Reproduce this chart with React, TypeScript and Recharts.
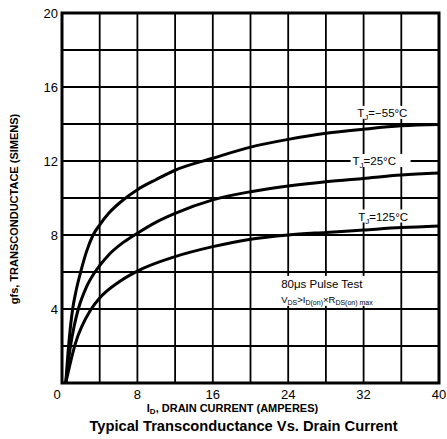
import React from 'react';
import { LineChart, Line, XAxis, YAxis, CartesianGrid, ReferenceArea, ReferenceDot } from 'recharts';

// Drain current (A) vs transconductance (S) for three junction temperatures
const currentM55 = [0.4, 0.7, 1.13, 1.5, 1.98, 2.6, 3.3, 4, 5, 6.5, 8, 10, 12, 16, 20, 24, 28, 32, 36, 40];
const gfsM55 = [0, 2, 4, 5.0, 6, 7.1, 8, 8.55, 9.2, 9.9, 10.45, 11.0, 11.5, 12.15, 12.75, 13.17, 13.5, 13.72, 13.9, 13.97];

const current25 = [0.4, 0.9, 1.3, 1.73, 2.6, 3.5, 4, 5, 6.5, 8, 10, 12, 16, 20, 24, 28, 32, 36, 40];
const gfs25 = [0, 2, 3.1, 4, 5.2, 6, 6.35, 6.95, 7.6, 8.1, 8.7, 9.17, 9.9, 10.34, 10.65, 10.88, 11.06, 11.24, 11.35];

const current125 = [0.4, 1.4, 3.1, 4, 6, 8, 12, 16, 20, 24, 28, 32, 36, 40];
const gfs125 = [0, 2.1, 4, 4.6, 5.45, 6.05, 6.83, 7.37, 7.77, 8.0, 8.14, 8.27, 8.4, 8.49];

const xTicks = [0, 4, 8, 12, 16, 20, 24, 28, 32, 36, 40];
const yTicks = [0, 2, 4, 6, 8, 10, 12, 14, 16, 18, 20];

const seriesLabels = ['\u221255\u00b0C', '25\u00b0C', '125\u00b0C'];
const labelPos = [
  { x: 34.3, y: 14.6 },
  { x: 33.8, y: 12.0 },
  { x: 34.4, y: 9.0 },
];
const noteLine1 = '80\u03bcs Pulse Test';
const notePos = { x: 27.5, y: 4.6 };

const toData = (xs: number[], ys: number[]) => xs.map((x, i) => ({ x, y: ys[i] }));
const dataM55 = toData(currentM55, gfsM55);
const data25 = toData(current25, gfs25);
const data125 = toData(current125, gfs125);

const FONT = '"Liberation Sans", Arial, sans-serif';

const XTick = (props: any) => {
  const { x, y, payload } = props;
  const v = payload.value;
  if (v % 8 !== 0) return null;
  const dx = v === 0 ? -5 : 0;
  return (
    <text x={x + dx} y={y + 8} textAnchor="middle" fontSize={13} fontFamily={FONT} fill="#000">
      {v}
    </text>
  );
};

const YTick = (props: any) => {
  const { x, y, payload } = props;
  const v = payload.value;
  if (v % 4 !== 0 || v === 0) return null;
  return (
    <text x={x + 4} y={y + 5} textAnchor="end" fontSize={13} fontFamily={FONT} fill="#000">
      {v}
    </text>
  );
};

const makeTJ = (temp: string) => (props: any) => {
  const { cx, cy } = props;
  const w = 60;
  return (
    <g>
      <rect x={cx - w / 2} y={cy - 7} width={w} height={13} fill="#fff" />
      <text x={cx - w / 2 + 2} y={cy + 4} fontSize={11.5} fontFamily={FONT} fill="#000">
        T<tspan fontSize={8} dy={3}>J</tspan>
        <tspan dy={-3}>={temp}</tspan>
      </text>
    </g>
  );
};

const NoteShape = (props: any) => {
  const { cx, cy } = props;
  const left = cx - 40;
  return (
    <g>
      <rect x={left - 2} y={cy - 22} width={103} height={30} fill="#fff" />
      <text x={left} y={cy - 10} fontSize={11.5} fontFamily={FONT} fill="#000">
        {noteLine1}
      </text>
      <text x={left} y={cy + 5} fontSize={9.5} fontFamily={FONT} fill="#000">
        V<tspan fontSize={7} dy={2}>DS</tspan>
        <tspan dy={-2}>{'>I'}</tspan>
        <tspan fontSize={7} dy={2}>D(on)</tspan>
        <tspan dy={-2}>{'\u00d7R'}</tspan>
        <tspan fontSize={7} dy={2}>DS(on) max</tspan>
      </text>
    </g>
  );
};

export default function App() {
  return (
    <div style={{ position: 'absolute', left: 0, top: 0, width: 447, height: 439, background: '#fff' }}>
      <LineChart
        width={447}
        height={439}
        margin={{ top: 13, right: 8, bottom: 0, left: 0 }}
      >
        <CartesianGrid stroke="#000" strokeWidth={1.8} />
        <XAxis
          type="number"
          dataKey="x"
          domain={[0, 40]}
          ticks={xTicks}
          tick={<XTick />}
          tickLine={false}
          axisLine={false}
          height={56}
          interval={0}
          allowDataOverflow
        />
        <YAxis
          type="number"
          dataKey="y"
          domain={[0, 20]}
          ticks={yTicks}
          tick={<YTick />}
          tickLine={false}
          axisLine={false}
          width={62}
          interval={0}
          allowDataOverflow
        />
        <ReferenceArea x1={0} x2={40} y1={0} y2={20} fill="none" stroke="#000" strokeWidth={3} fillOpacity={0} />
        <Line data={dataM55} dataKey="y" type="monotone" stroke="#000" strokeWidth={3} dot={false} isAnimationActive={false} />
        <Line data={data25} dataKey="y" type="monotone" stroke="#000" strokeWidth={3} dot={false} isAnimationActive={false} />
        <Line data={data125} dataKey="y" type="monotone" stroke="#000" strokeWidth={3} dot={false} isAnimationActive={false} />
        {seriesLabels.map((t, i) => (
          <ReferenceDot key={t} x={labelPos[i].x} y={labelPos[i].y} r={0} shape={makeTJ(t)} />
        ))}
        <ReferenceDot x={notePos.x} y={notePos.y} r={0} shape={NoteShape} />
      </LineChart>
      <div
        style={{
          position: 'absolute', left: 0, width: 447, top: 401, textAlign: 'center',
          fontFamily: FONT, fontWeight: 'bold', fontSize: 11, lineHeight: '14px', paddingLeft: 18, boxSizing: 'border-box',
        }}
      >
        I<sub style={{ fontSize: 8, verticalAlign: 'baseline', position: 'relative', top: 2 }}>D</sub>, DRAIN CURRENT (AMPERES)
      </div>
      <div
        style={{
          position: 'absolute', left: 0, width: 447, top: 417, textAlign: 'center',
          fontFamily: FONT, fontWeight: 'bold', fontSize: 14.7, lineHeight: '18px', paddingLeft: 40, boxSizing: 'border-box',
        }}
      >
        Typical Transconductance Vs. Drain Current
      </div>
      <div
        style={{
          position: 'absolute', left: 14, top: 209, width: 0, height: 0,
        }}
      >
        <div
          style={{
            position: 'absolute', left: 0, top: 0, transform: 'translate(-50%, -50%) rotate(-90deg)',
            whiteSpace: 'nowrap', fontFamily: FONT, fontWeight: 'bold', fontSize: 11,
          }}
        >
          gfs, TRANSCONDUCTACE (SIMENS)
        </div>
      </div>
    </div>
  );
}
